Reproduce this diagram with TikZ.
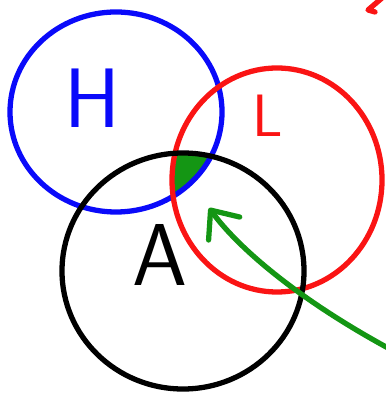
\documentclass[tikz,border=0pt]{standalone}
\usetikzlibrary{arrows.meta}
\definecolor{penblue}{RGB}{10,10,250}
\definecolor{penred}{RGB}{250,20,20}
\definecolor{pengreen}{RGB}{20,150,20}
\tikzset{
  pen/.style={line width=1.5pt, line cap=round, line join=round},
  letter/.style={font=\fontsize{#1}{#1}\selectfont\sffamily, inner sep=0pt}
}
\begin{document}
\begin{tikzpicture}[x=0.01cm, y=-0.01cm]
    \useasboundingbox (0,0) rectangle (385,401);
    % overlap of all three sets
    \begin{scope}
        \clip (116,112) ellipse [x radius=106, y radius=100];
        \clip (277,180) ellipse [x radius=105, y radius=112];
        \clip (183,271) ellipse [x radius=121, y radius=118];
        \fill[pengreen] (0,0) rectangle (385,401);
    \end{scope}
    \draw[pen,penblue] (116,112) ellipse [x radius=106, y radius=100];
    \draw[pen,penred] (277,180) ellipse [x radius=105, y radius=112];
    \draw[pen,black] (183,271) ellipse [x radius=121, y radius=118];
    \node[letter=24,text=penblue] (H) at (92,98) {H};
    \node[letter=17,text=penred] (L) at (268,116) {L};
    \node[letter=25,text=black] (A) at (160,255) {A};
    % cut off mark in the corner
    \draw[pen,penred] (382,-2) -- (368,10) -- (375,12);
    % arrow to the overlap
    \coordinate (tail) at (388,348);
    \coordinate (tip) at (209,208);
    \draw[pen,pengreen,-{Straight Barb[length=6.5pt,width=11pt,round]}]
        (tail) .. controls (300,300) and (240,250) .. (tip);
\end{tikzpicture}
\end{document}
